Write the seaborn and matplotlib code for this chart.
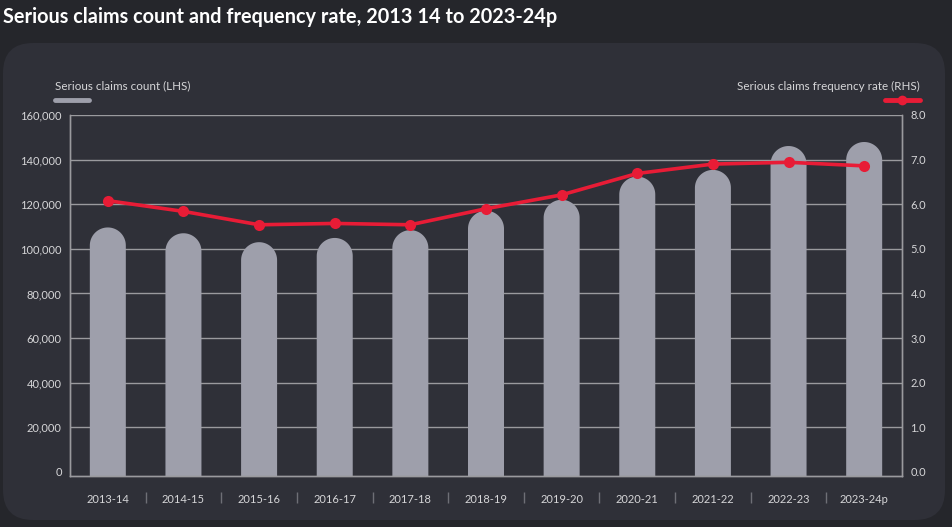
import numpy as np
import pandas as pd
import matplotlib
matplotlib.use("Agg")
import matplotlib.pyplot as plt
import seaborn as sns
from matplotlib.patches import FancyBboxPatch, PathPatch
from matplotlib.path import Path
from matplotlib.transforms import IdentityTransform

years = ["2013-14", "2014-15", "2015-16", "2016-17", "2017-18", "2018-19",
         "2019-20", "2020-21", "2021-22", "2022-23", "2023-24p"]
claims_count = [109600, 107000, 103000, 104900, 108400, 117100,
                122000, 132400, 135400, 146100, 147900]
frequency_rate = [6.08, 5.84, 5.54, 5.57, 5.54, 5.90, 6.21, 6.69, 6.90, 6.94, 6.86]
left_ticks = [0, 20000, 40000, 60000, 80000, 100000, 120000, 140000, 160000]
right_ticks = [0.0, 1.0, 2.0, 3.0, 4.0, 5.0, 6.0, 7.0, 8.0]

title = "Serious claims count and frequency rate, 2013 14 to 2023-24p"
lhs_label = "Serious claims count (LHS)"
rhs_label = "Serious claims frequency rate (RHS)"

BG = "#25262b"
PANEL = "#2f3038"
BAR = "#9e9fab"
RED = "#e81c36"
GRID = "#9a9a9e"
TXT = "#d6d6d8"

sns.set_theme(style="white")
plt.rcParams["font.family"] = ["Lato", "DejaVu Sans"]

W, H = 953, 527
fig = plt.figure(figsize=(W / 100, H / 100), dpi=100, facecolor=BG)

# rounded panel
panel = FancyBboxPatch((3, 7), 942, 477, boxstyle="round,pad=0,rounding_size=30",
                       transform=IdentityTransform(), facecolor=PANEL, edgecolor="none",
                       zorder=-10)
fig.patches.append(panel)

fig.text(3 / W, 1 - 17 / H, title, color="white", fontsize=14.3, fontweight="bold",
         ha="left", va="center")

ax_l, ax_r, ax_t, ax_b = 70, 902, 115, 476
ax = fig.add_axes([ax_l / W, 1 - ax_b / H, (ax_r - ax_l) / W, (ax_b - ax_t) / H])
ax.set_facecolor("none")

df = pd.DataFrame({"year": years, "count": claims_count, "rate": frequency_rate})
sns.barplot(data=df, x="year", y="count", ax=ax, color=BAR, width=0.476,
            saturation=1, edgecolor="none")
ax.set_xlim(-0.5, len(years) - 0.5)
ymin_l = -1800
ax.set_ylim(ymin_l, 160000)
ax.set_yticks(left_ticks)
ax.set_yticklabels([f"{v:,.0f}" for v in left_ticks])
ax.yaxis.grid(True, color=GRID, lw=1)
ax.set_axisbelow(True)
ax.set_xlabel("")
ax.set_ylabel("")

# replace bars with round-topped bars
fig.canvas.draw()
ax.yaxis.get_gridlines()[0].set_visible(False)
px_per_y = (ax.transData.transform((0, 1000))[1] - ax.transData.transform((0, 0))[1]) / 1000
px_per_x = ax.transData.transform((1, 0))[0] - ax.transData.transform((0, 0))[0]
for p in list(ax.patches):
    x0 = p.get_x()
    w = p.get_width()
    h = p.get_height()
    p.set_visible(False)
    rx = w / 2
    r_px = rx * px_per_x
    ry = r_px / px_per_y
    xc = x0 + rx
    t = np.linspace(np.pi, 0, 40)
    verts = [(x0, ymin_l), (x0, h - ry)]
    verts += [(xc + rx * np.cos(a), h - ry + ry * np.sin(a)) for a in t]
    verts += [(x0 + w, ymin_l), (x0, ymin_l)]
    codes = [Path.MOVETO] + [Path.LINETO] * (len(verts) - 2) + [Path.CLOSEPOLY]
    ax.add_patch(PathPatch(Path(verts, codes), facecolor=BAR, edgecolor="none", zorder=2))

ax2 = ax.twinx()
ax2.set_facecolor("none")
sns.lineplot(x=np.arange(len(years)), y=df["rate"], ax=ax2, color=RED, lw=2.6,
             marker="o", markersize=8, markeredgewidth=0, zorder=5)
ax2.set_ylim(-1800 / 20000, 8.0)
ax2.set_yticks(right_ticks)
ax2.set_yticklabels([f"{v:.1f}" for v in right_ticks])
ax2.set_xlim(-0.5, len(years) - 0.5)
ax2.set_ylabel("")

for a in (ax, ax2):
    for s in a.spines.values():
        s.set_color(GRID)
        s.set_linewidth(1)
    a.spines["top"].set_visible(False)
ax.tick_params(axis="y", length=0, pad=6, labelsize=8, labelcolor=TXT)
ax.tick_params(axis="x", length=0, pad=13, labelsize=8, labelcolor=TXT)
ax2.tick_params(axis="y", length=0, pad=6, labelsize=8, labelcolor=TXT)

# separators between category labels
ax.vlines(np.arange(len(years) - 1) + 0.5, -0.075, -0.044, transform=ax.get_xaxis_transform(),
          color="#6e6f76", lw=1, clip_on=False)

# legend
fig.text(55 / W, 1 - 86 / H, lhs_label, color=TXT, fontsize=8.4, ha="left", va="center")
fig.add_artist(plt.Line2D([55 / W, 89 / W], [1 - 100 / H] * 2, color=BAR, lw=3.5,
                          transform=fig.transFigure))
fig.text(920 / W, 1 - 86 / H, rhs_label, color=TXT, fontsize=8.4, ha="right", va="center")
fig.add_artist(plt.Line2D([885 / W, 920 / W], [1 - 100 / H] * 2, color=RED, lw=3.5,
                          transform=fig.transFigure))
fig.add_artist(plt.Line2D([902 / W], [1 - 100 / H], color=RED, marker="o", markersize=7,
                          markeredgewidth=0, transform=fig.transFigure))

fig.savefig("out.png", dpi=100, facecolor=BG)
